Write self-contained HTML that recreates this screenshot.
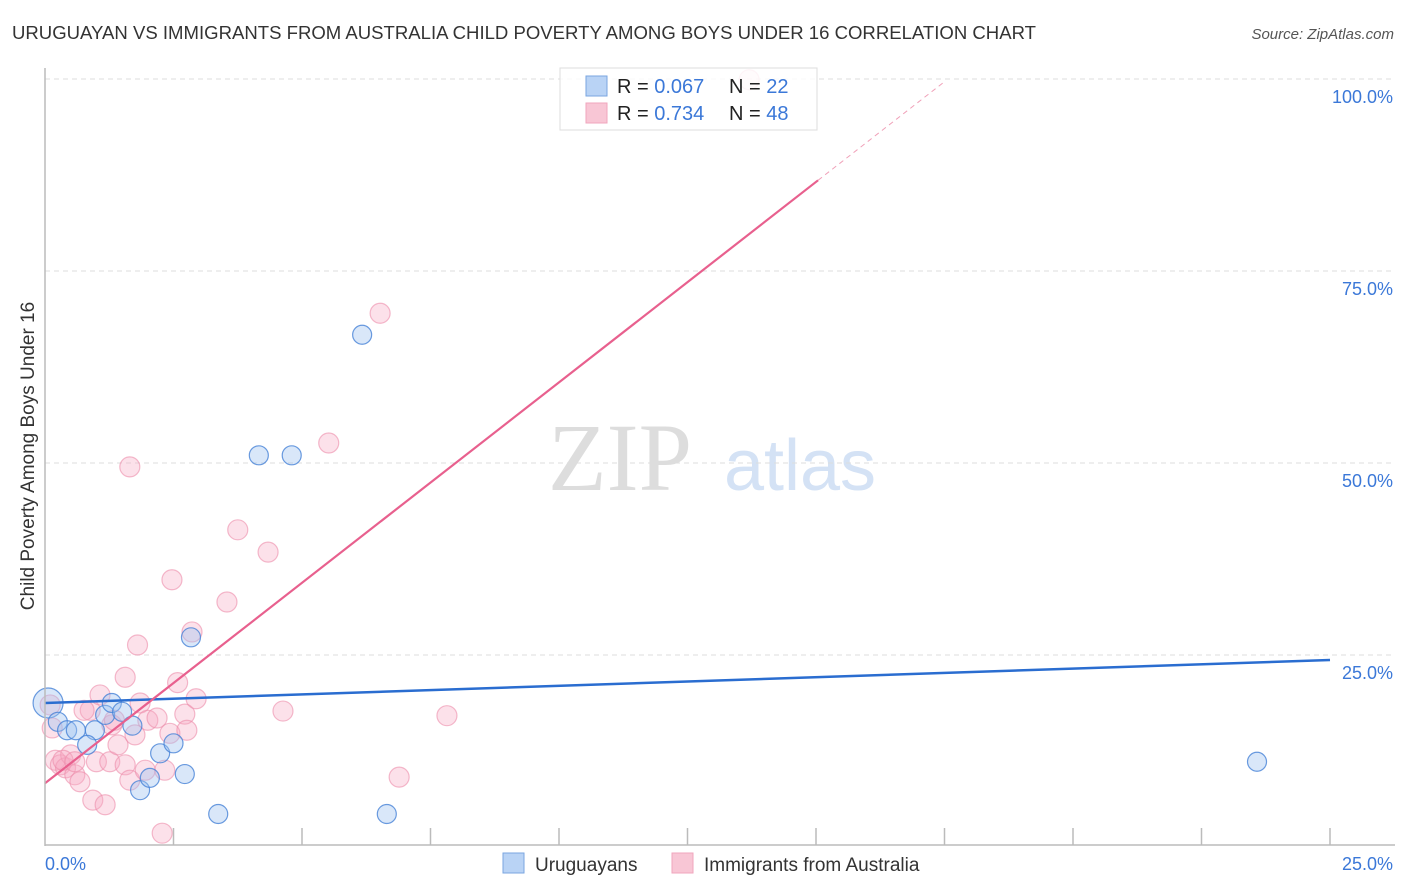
<!DOCTYPE html>
<html><head><meta charset="utf-8"><style>
body{margin:0;background:#fff;font-family:"Liberation Sans",sans-serif;}
#wrap{position:relative;width:1406px;height:892px;overflow:hidden;}
</style></head><body>
<div id="wrap">
<svg id="svg" width="1406" height="892" xmlns="http://www.w3.org/2000/svg">
<text x="12" y="39" font-size="18.5" fill="#333" textLength="1024" lengthAdjust="spacingAndGlyphs">URUGUAYAN VS IMMIGRANTS FROM AUSTRALIA CHILD POVERTY AMONG BOYS UNDER 16 CORRELATION CHART</text>
<text x="1394" y="39" font-size="15" fill="#555" font-style="italic" text-anchor="end">Source: ZipAtlas.com</text>
<text x="620" y="490" font-size="96" fill="#ddd" font-family="Liberation Serif,serif" text-anchor="middle">ZIP</text>
<text x="800" y="490" font-size="72" fill="#d4e2f5" text-anchor="middle">atlas</text>
<text transform="translate(34,456) rotate(-90)" font-size="19" fill="#333" text-anchor="middle">Child Poverty Among Boys Under 16</text>
<g id="grid"></g>
<g id="pts"></g>
<g>
<rect x="560" y="68" width="257" height="62" fill="#fff" fill-opacity="0.85" stroke="#ddd"/>
<rect x="586" y="76" width="21" height="20" fill="#b9d3f5" stroke="#7aa6e0"/>
<rect x="586" y="103" width="21" height="20" fill="#f8c6d5" stroke="#f0a6bd"/>
<text x="617" y="93" font-size="20" fill="#222">R = <tspan fill="#3b78d8">0.067</tspan></text>
<text x="729" y="93" font-size="20" fill="#222">N = <tspan fill="#3b78d8">22</tspan></text>
<text x="617" y="120" font-size="20" fill="#222">R = <tspan fill="#3b78d8">0.734</tspan></text>
<text x="729" y="120" font-size="20" fill="#222">N = <tspan fill="#3b78d8">48</tspan></text>
</g>
<g id="lines"></g>
<line x1="45" y1="68" x2="45" y2="846" stroke="#bbb" stroke-width="1.5"/>
<line x1="45" y1="845" x2="1395" y2="845" stroke="#bbb" stroke-width="1.5"/>
<text x="45" y="870" font-size="18" fill="#3b78d8">0.0%</text>
<text x="1393" y="870" font-size="18" fill="#3b78d8" text-anchor="end">25.0%</text>
<g>
<rect x="503" y="853" width="21" height="20" fill="#b9d3f5" stroke="#7aa6e0"/>
<text x="535" y="871" font-size="19" fill="#333">Uruguayans</text>
<rect x="672" y="853" width="21" height="20" fill="#f8c6d5" stroke="#f0a6bd"/>
<text x="704" y="871" font-size="19" fill="#333">Immigrants from Australia</text>
</g>
</svg>
</div>
<script>
const yTicks=[25,50,75,100];
const xTicks=[2.5,5,7.5,10,12.5,15,17.5,20,22.5,25];
const blueX=[0.06,0.25,0.43,0.6,0.97,0.82,1.17,1.3,1.5,1.7,1.85,2.04,2.24,2.5,2.72,2.84,3.37,4.16,4.8,6.17,6.65,23.58];
const blueY=[18.75,16.3,15.2,15.2,15.2,13.3,17.2,18.75,17.6,15.8,7.4,9.0,12.2,13.5,9.5,27.3,4.3,51.0,51.0,66.7,4.3,11.1];
const pinkX=[0.1,0.14,0.2,0.3,0.4,0.5,0.58,0.68,0.88,0.93,1.07,1.0,1.17,1.26,1.3,1.42,1.56,1.56,1.65,1.65,1.8,1.85,1.95,2.0,2.18,2.28,2.33,2.43,2.47,2.58,2.72,2.76,2.86,2.94,3.54,3.75,4.34,4.63,5.52,6.52,6.89,7.82,13.7,0.76,0.35,1.75,1.35,0.58];
const pinkY=[18.5,15.5,11.3,10.7,10.3,12,9.4,8.5,17.8,6.1,19.8,11.1,5.5,11.1,15.9,13.3,22.1,10.7,8.7,49.5,26.3,18.75,10,16.5,16.8,1.8,10,14.8,34.8,21.4,17.3,15.2,28,19.3,31.9,41.3,38.4,17.7,52.6,69.5,9.1,17.1,99.9,17.8,11.3,14.6,16.5,11.1];
const blueTrend=[18.75,24.35];
const pinkTrend=[8.3,5.22];
const NS="http://www.w3.org/2000/svg";
const sx=v=>45+v/25*1285, sy=v=>847-v/100*768;
function mk(tag,attrs,parent){const e=document.createElementNS(NS,tag);for(const k in attrs)e.setAttribute(k,attrs[k]);parent.appendChild(e);return e;}
const grid=document.getElementById('grid'),pts=document.getElementById('pts'),lines=document.getElementById('lines');
yTicks.forEach(t=>{
 const l=mk('line',{x1:45,x2:1395,y1:sy(t),y2:sy(t),stroke:'#ddd','stroke-dasharray':'5,4'},grid);
 
 
 const tx=mk('text',{x:1393,y:sy(t)+24,'font-size':18,fill:'#3b78d8','text-anchor':'end'},grid);
 tx.textContent=t.toFixed(1)+'%';
 
 
});
xTicks.forEach(t=>{
 const l=mk('line',{x1:sx(t),x2:sx(t),y1:828,y2:845,stroke:'#bbb','stroke-width':1.5},grid);
 
 
});
pinkX.forEach((x,i)=>{
 const c=mk('circle',{cx:sx(x),cy:sy(pinkY[i]),r:10,fill:'rgba(246,170,194,0.35)',stroke:'rgba(236,140,170,0.6)','stroke-width':1.2},pts);
 
 
});
blueX.forEach((x,i)=>{
 const c=mk('circle',{cx:sx(x),cy:sy(blueY[i]),r:i===0?15:9.5,fill:'rgba(160,195,240,0.4)',stroke:'rgba(70,130,215,0.8)','stroke-width':1.2},pts);
 
 
});
const bl=mk('line',{x1:sx(0),y1:sy(blueTrend[0]),x2:sx(25),y2:sy(blueTrend[1]),stroke:'#2a6dd0','stroke-width':2.5},lines);


const pEnd=15.04,pMax=17.5;
const pl=mk('line',{x1:sx(0),y1:sy(pinkTrend[0]),x2:sx(pEnd),y2:sy(pinkTrend[0]+pinkTrend[1]*pEnd),stroke:'#e8608e','stroke-width':2.2},lines);


const pd=mk('line',{x1:sx(pEnd),y1:sy(pinkTrend[0]+pinkTrend[1]*pEnd),x2:sx(pMax),y2:sy(pinkTrend[0]+pinkTrend[1]*pMax),stroke:'#f0a0b8','stroke-width':1,'stroke-dasharray':'5,4'},lines);


</script>
</body></html>
